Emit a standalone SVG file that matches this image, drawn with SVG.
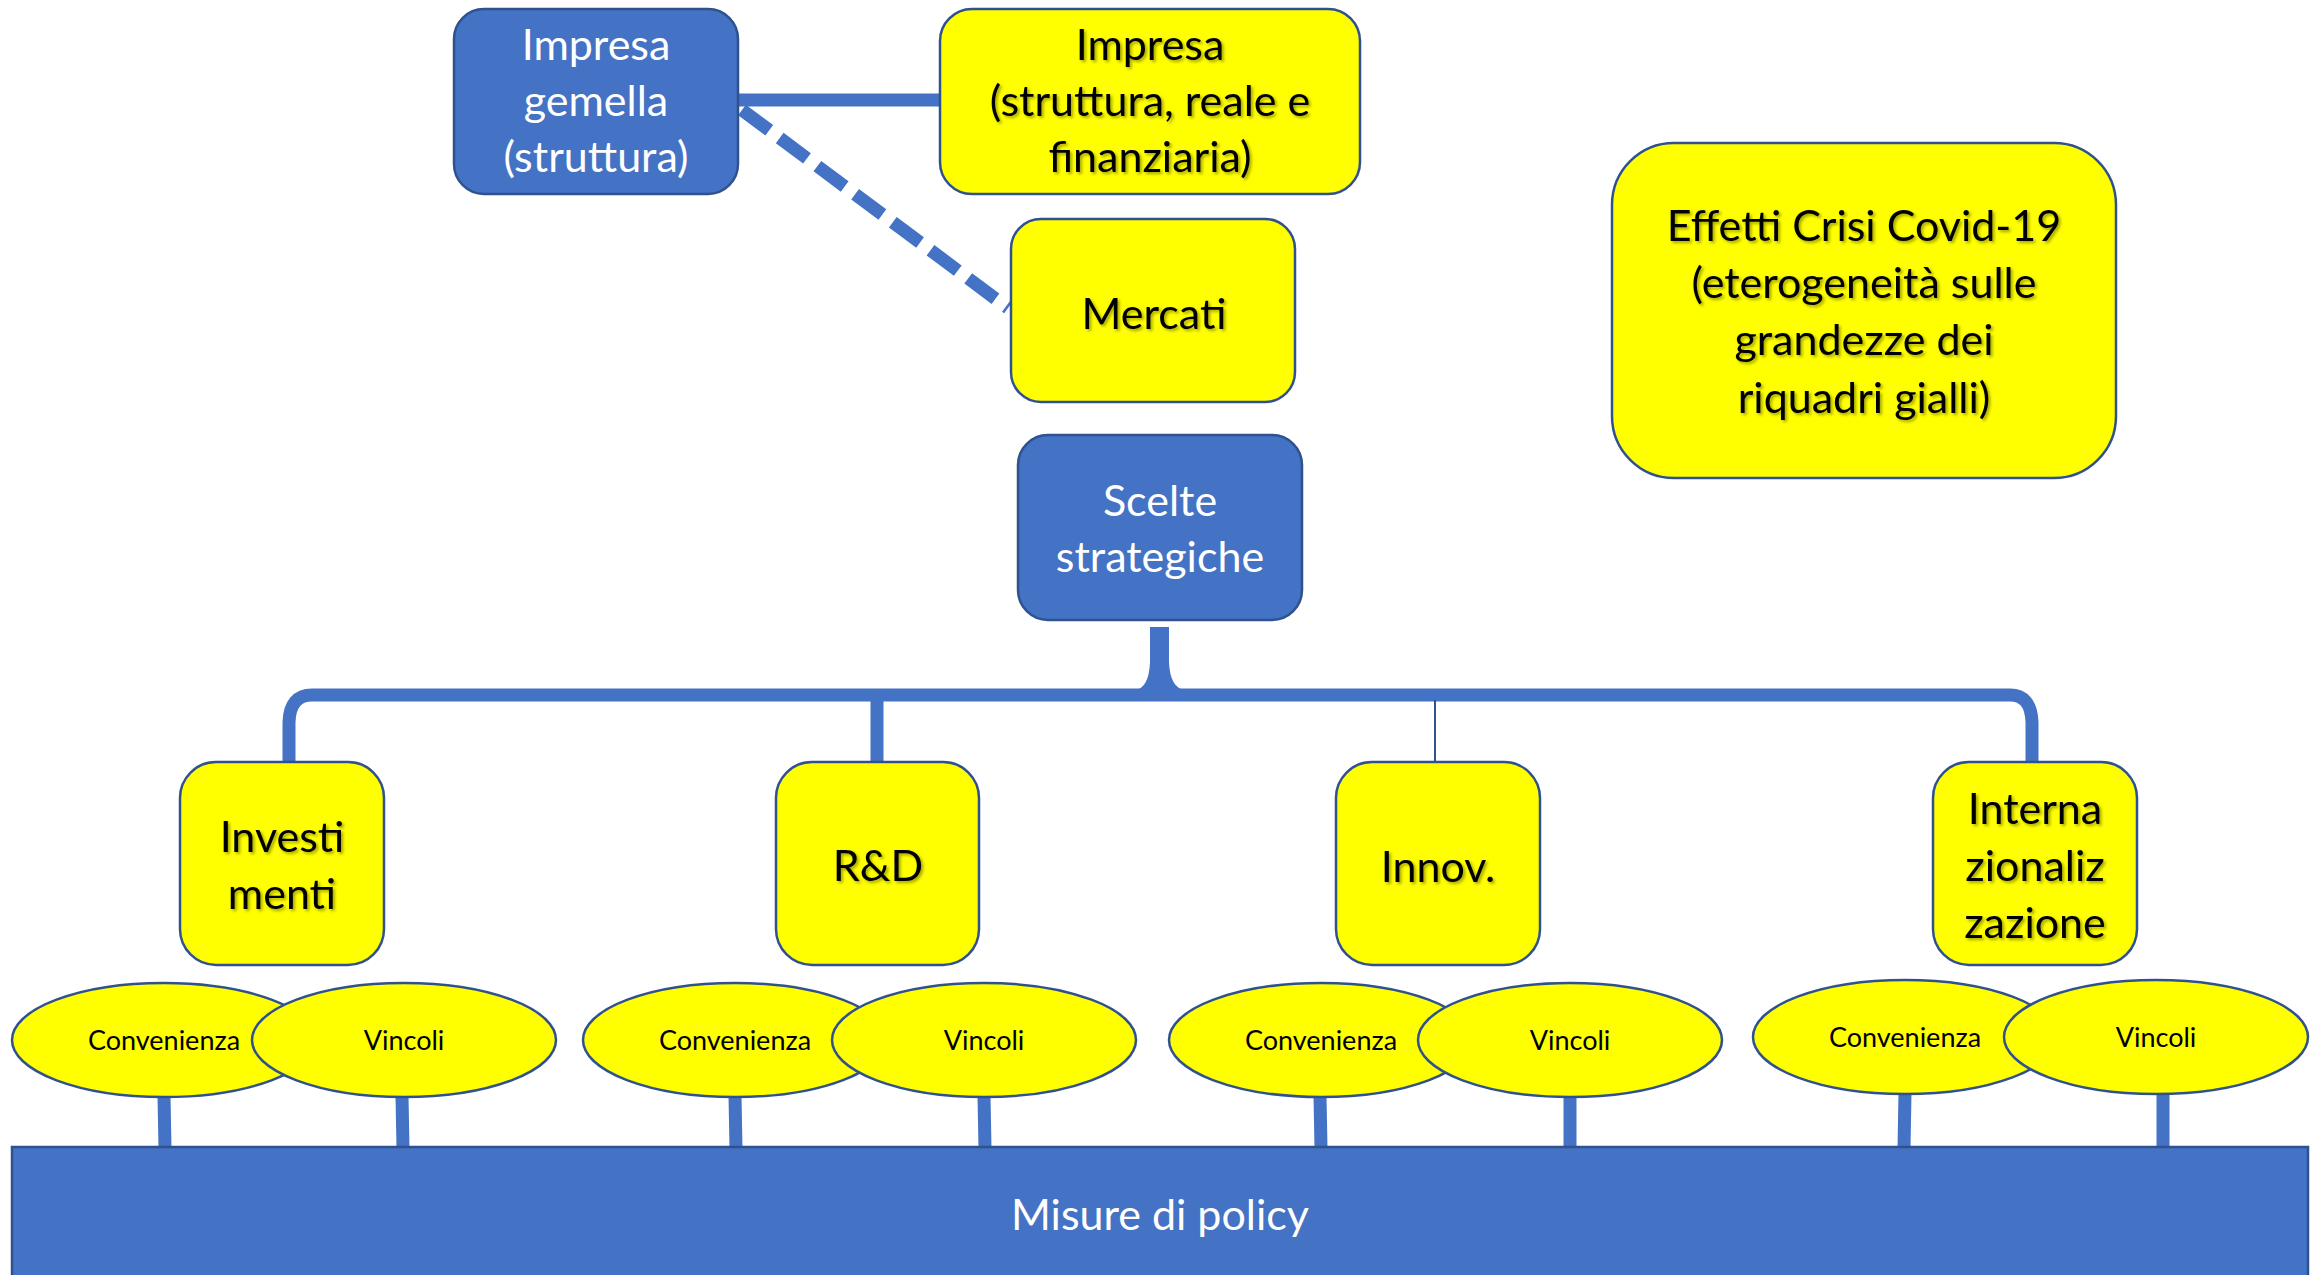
<svg xmlns="http://www.w3.org/2000/svg" width="2320" height="1275" viewBox="0 0 2320 1275">
<defs>
<style>
.blue{fill:#4472C4;stroke:#2F528F;stroke-width:2.5}
.yel{fill:#FFFF00;stroke:#2F528F;stroke-width:2.5}
.wt{fill:#FFFFFF;font-family:Lato,"Open Sans",sans-serif;font-size:43px;text-anchor:middle}
.bt{fill:#000000;font-family:Lato,"Open Sans",sans-serif;font-size:43px;text-anchor:middle;filter:url(#sh)}
.st{fill:#000000;font-family:Lato,"Open Sans",sans-serif;font-size:27px;text-anchor:middle}
.con{fill:none;stroke:#4472C4;stroke-width:13}
</style>
<filter id="sh" x="-10%" y="-20%" width="120%" height="140%">
<feDropShadow dx="2" dy="2" stdDeviation="1.5" flood-color="#000" flood-opacity="0.35"/>
</filter>
</defs>
<g id="connectors">
<line class="con" x1="738" y1="100" x2="940" y2="100"/>
<line class="con" x1="742" y1="110" x2="1008" y2="308" stroke-dasharray="34,13"/>
<path class="con" stroke-width="15" d="M289,762 L289,722 Q290,695 312,695 L2010,695 Q2031,695 2032,722 L2032,762"/>
<path fill="#4472C4" d="M1150,627 L1169,627 L1169,662 Q1170,688 1185,690 L1135,690 Q1149,688 1150,662 Z"/>
<line class="con" x1="877" y1="695" x2="877" y2="764"/>
<line x1="1435" y1="700" x2="1435" y2="786" stroke="#2F528F" stroke-width="2"/>
<g class="con" stroke-width="12">
<line x1="164" y1="1096" x2="165" y2="1148"/>
<line x1="402" y1="1096" x2="403" y2="1148"/>
<line x1="735" y1="1096" x2="736" y2="1148"/>
<line x1="984" y1="1096" x2="985" y2="1148"/>
<line x1="1320" y1="1096" x2="1321" y2="1148"/>
<line x1="1570" y1="1096" x2="1570" y2="1148"/>
<line x1="1905" y1="1093" x2="1904" y2="1148"/>
<line x1="2163" y1="1093" x2="2163" y2="1148"/>
</g>
</g>
<g id="impresa-gemella">
<rect class="blue" x="454" y="9" width="284" height="185" rx="30"/>
<text class="wt" x="596" y="60">Impresa</text>
<text class="wt" x="596" y="116">gemella</text>
<text class="wt" x="596" y="172">(struttura)</text>
</g>
<g id="impresa">
<rect class="yel" x="940" y="9" width="420" height="185" rx="32"/>
<text class="bt" x="1150" y="60">Impresa</text>
<text class="bt" x="1150" y="116">(struttura, reale e</text>
<text class="bt" x="1150" y="172">finanziaria)</text>
</g>
<g id="mercati">
<rect class="yel" x="1011" y="219" width="284" height="183" rx="30"/>
<text class="bt" x="1154" y="329">Mercati</text>
</g>
<g id="effetti">
<rect class="yel" x="1612" y="143" width="504" height="335" rx="62"/>
<text class="bt" x="1864" y="241">Effetti Crisi Covid-19</text>
<text class="bt" x="1864" y="298">(eterogeneità sulle</text>
<text class="bt" x="1864" y="355">grandezze dei</text>
<text class="bt" x="1864" y="413">riquadri gialli)</text>
</g>
<g id="scelte">
<rect class="blue" x="1018" y="435" width="284" height="185" rx="30"/>
<text class="wt" x="1160" y="516">Scelte</text>
<text class="wt" x="1160" y="572">strategiche</text>
</g>
<g id="investimenti">
<rect class="yel" x="180" y="762" width="204" height="203" rx="36"/>
<text class="bt" x="282" y="852">Investi</text>
<text class="bt" x="282" y="909">menti</text>
</g>
<g id="rd">
<rect class="yel" x="776" y="762" width="203" height="203" rx="36"/>
<text class="bt" x="878" y="881">R&amp;D</text>
</g>
<g id="innov">
<rect class="yel" x="1336" y="762" width="204" height="203" rx="36"/>
<text class="bt" x="1438" y="882">Innov.</text>
</g>
<g id="internazionalizzazione">
<rect class="yel" x="1933" y="762" width="204" height="203" rx="36"/>
<text class="bt" x="2035" y="824">Interna</text>
<text class="bt" x="2035" y="881">zionaliz</text>
<text class="bt" x="2035" y="938">zazione</text>
</g>
<g id="convenienza-1"><ellipse class="yel" cx="164" cy="1040" rx="152" ry="57"/><text class="st" x="164" y="1050">Convenienza</text></g>
<g id="vincoli-1"><ellipse class="yel" cx="404" cy="1040" rx="152" ry="57"/><text class="st" x="404" y="1050">Vincoli</text></g>
<g id="convenienza-2"><ellipse class="yel" cx="735" cy="1040" rx="152" ry="57"/><text class="st" x="735" y="1050">Convenienza</text></g>
<g id="vincoli-2"><ellipse class="yel" cx="984" cy="1040" rx="152" ry="57"/><text class="st" x="984" y="1050">Vincoli</text></g>
<g id="convenienza-3"><ellipse class="yel" cx="1321" cy="1040" rx="152" ry="57"/><text class="st" x="1321" y="1050">Convenienza</text></g>
<g id="vincoli-3"><ellipse class="yel" cx="1570" cy="1040" rx="152" ry="57"/><text class="st" x="1570" y="1050">Vincoli</text></g>
<g id="convenienza-4"><ellipse class="yel" cx="1905" cy="1037" rx="152" ry="57"/><text class="st" x="1905" y="1047">Convenienza</text></g>
<g id="vincoli-4"><ellipse class="yel" cx="2156" cy="1037" rx="152" ry="57"/><text class="st" x="2156" y="1047">Vincoli</text></g>
<g id="misure">
<rect class="blue" x="12" y="1147" width="2296" height="140"/>
<text class="wt" x="1160" y="1230">Misure di policy</text>
</g>
</svg>
